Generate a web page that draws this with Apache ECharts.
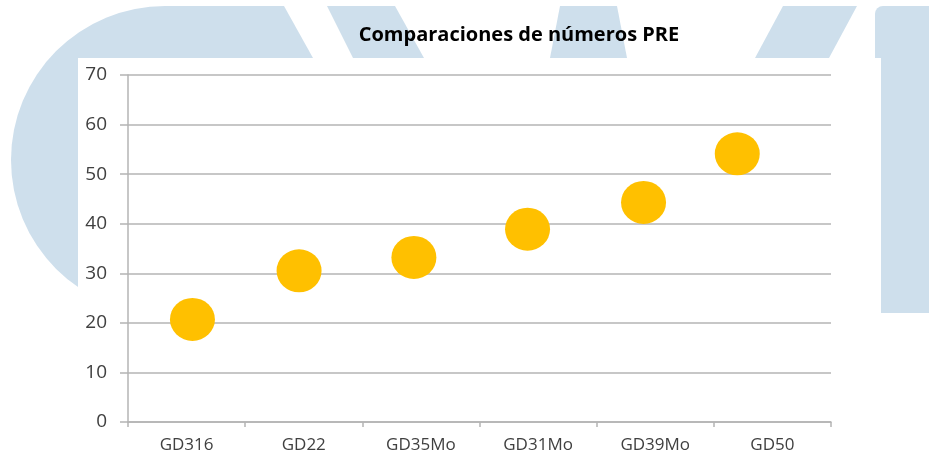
<!DOCTYPE html>
<html>
<head>
<meta charset="utf-8">
<title>Comparaciones de números PRE</title>
<script src="https://cdn.jsdelivr.net/npm/echarts@6/dist/echarts.min.js"></script>
<style>
html,body{margin:0;padding:0;background:#fff;}
#main{width:929px;height:454px;}
</style>
</head>
<body>
<div id="main"></div>
<script>
/*datos del grafico*/
var categorias = ['GD316', 'GD22', 'GD35Mo', 'GD31Mo', 'GD39Mo', 'GD50'];
var posicionX = [0.55, 1.46, 2.44, 3.41, 4.40, 5.20];   // posicion horizontal de cada burbuja
var valores = [20.7, 30.5, 33.2, 38.9, 44.3, 54.1];
var ejeYMin = 0, ejeYMax = 70, ejeYPaso = 10;

var azul = '#cedfec';
var gris = '#b4b4b4';

/*fondo decorativo*/
function fondo(){
    return [
        {type:'circle', z:-10, shape:{cx:165, cy:160, r:154}, style:{fill:azul}},
        {type:'polygon', z:-10, shape:{points:[[165,6],[284,6],[313,58],[165,58]]}, style:{fill:azul}},
        {type:'polygon', z:-10, shape:{points:[[327,6],[395,6],[424,58],[353,58]]}, style:{fill:azul}},
        {type:'polygon', z:-10, shape:{points:[[560,6],[617,6],[627,58],[550,58]]}, style:{fill:azul}},
        {type:'polygon', z:-10, shape:{points:[[783,6],[857,6],[829,58],[755,58]]}, style:{fill:azul}},
        {type:'rect', z:-10, shape:{x:875, y:6, width:54, height:307, r:[8,0,0,0]}, style:{fill:azul}},
        {type:'rect', z:-9, shape:{x:78, y:58, width:803, height:396}, style:{fill:'#fff'}}
    ];
}

/*dibujar*/
function paintForm(){
    var myChart = echarts.init(document.getElementById('main'));
    var puntos = [];
    for(var i=0;i<valores.length;i++){
        puntos.push([posicionX[i], valores[i]]);
    }
    var option = {
        animation: false,
        graphic: fondo(),
        title: {
            text: 'Comparaciones de números PRE',
            left: 514,
            top: 20,
            textAlign: 'center',
            textStyle: {
                fontFamily: 'Open Sans',
                fontWeight: 'bold',
                fontSize: 20,
                color: '#000'
            }
        },
        grid: {left:128, right:98, top:75, bottom:32, containLabel:false},
        xAxis: [
            {
                type: 'category',
                data: categorias,
                boundaryGap: true,
                axisLine: {lineStyle:{color:gris, width:1.5}},
                axisTick: {show:true, length:5, alignWithLabel:false, lineStyle:{color:gris, width:1.5}},
                axisLabel: {
                    margin: 15,
                    fontFamily: 'Open Sans',
                    fontSize: 17,
                    color: '#404040',
                    interval: 0
                },
                splitLine: {show:false}
            },
            {
                type: 'value',
                min: 0,
                max: categorias.length,
                show: false
            }
        ],
        yAxis: {
            type: 'value',
            min: ejeYMin,
            max: ejeYMax,
            interval: ejeYPaso,
            axisLine: {show:true, lineStyle:{color:gris, width:1.5}},
            axisTick: {show:true, length:8, lineStyle:{color:gris, width:1.5}},
            axisLabel: {
                margin: 21,
                fontFamily: 'Open Sans',
                fontSize: 19,
                color: '#404040'
            },
            splitLine: {lineStyle:{color:gris, width:1.5}}
        },
        series: [
            {
                name: 'PRE',
                type: 'scatter',
                xAxisIndex: 1,
                symbol: 'circle',
                symbolSize: [45, 43],
                itemStyle: {color:'#ffc000', opacity:1},
                data: puntos
            }
        ]
    };
    myChart.setOption(option);
}

paintForm();
</script>
</body>
</html>
